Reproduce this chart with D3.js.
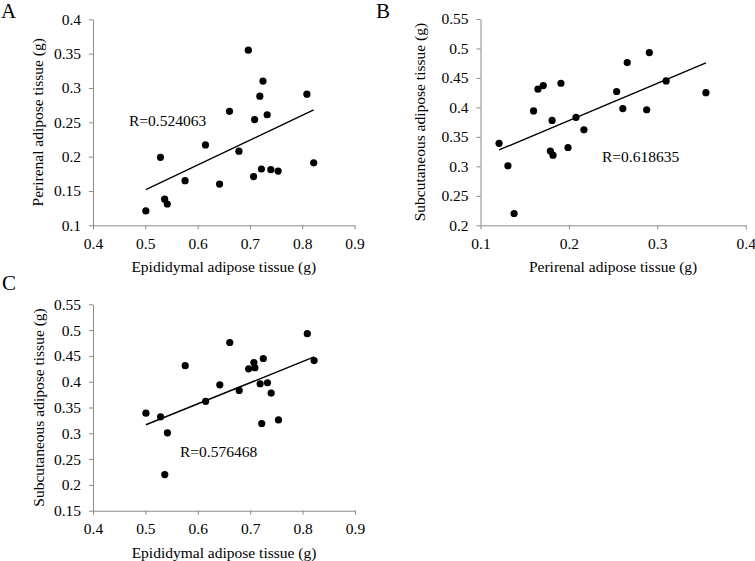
<!DOCTYPE html>
<html>
<head>
<meta charset="utf-8">
<script src="https://cdn.jsdelivr.net/npm/d3@7"></script>
<style>
  html, body { margin: 0; padding: 0; background: #fff; }
  svg { display: block; }
  text { font-family: "Liberation Serif", "Times New Roman", serif; fill: #000; }
</style>
</head>
<body>
<svg id="chart" width="755" height="561"></svg>
<script>
// ---- data: 20 mice, tissue weights (g) ----
const epididymal   = [0.501, 0.529, 0.537, 0.542, 0.576, 0.615, 0.642, 0.661, 0.679, 0.697,
                      0.707, 0.709, 0.719, 0.725, 0.722, 0.733, 0.740, 0.754, 0.809, 0.822];
const perirenal    = [0.121, 0.199, 0.138, 0.131, 0.165, 0.217, 0.160, 0.266, 0.208, 0.355,
                      0.171, 0.254, 0.288, 0.310, 0.182, 0.261, 0.181, 0.179, 0.291, 0.191];
const subcutaneous = [0.339, 0.332, 0.220, 0.301, 0.431, 0.362, 0.394, 0.476, 0.383, 0.425,
                      0.437, 0.427, 0.396, 0.445, 0.319, 0.398, 0.378, 0.326, 0.493, 0.441];

const ticksEpi  = [0.4, 0.5, 0.6, 0.7, 0.8, 0.9];
const ticksPeriX = [0.1, 0.2, 0.3, 0.4];
const ticksPeriY = [0.1, 0.15, 0.2, 0.25, 0.3, 0.35, 0.4];
const ticksSubB = [0.2, 0.25, 0.3, 0.35, 0.4, 0.45, 0.5, 0.55];
const ticksSubC = [0.15, 0.2, 0.25, 0.3, 0.35, 0.4, 0.45, 0.5, 0.55];

const panelLetters = ["A", "B", "C"];
const rLabels = ["R=0.524063", "R=0.618635", "R=0.576468"];
const xTitles = ["Epididymal adipose tissue (g)", "Perirenal adipose tissue (g)", "Epididymal adipose tissue (g)"];
const yTitles = ["Perirenal adipose tissue (g)", "Subcutaneous adipose tissue (g)", "Subcutaneous adipose tissue (g)"];

// ---- layout ----
const panels = [
  { letter: panelLetters[0], xs: epididymal, ys: perirenal,
    xDom: [0.4, 0.9], yDom: [0.1, 0.4], xTicks: ticksEpi, yTicks: ticksPeriY,
    left: 93, right: 354.5, top: 19.3, bottom: 225.3,
    letterPos: [1, 18], rPos: [129, 126], yTitleX: 38,
    xTitle: xTitles[0], yTitle: yTitles[0], r: rLabels[0] },
  { letter: panelLetters[1], xs: perirenal, ys: subcutaneous,
    xDom: [0.1, 0.4], yDom: [0.2, 0.55], xTicks: ticksPeriX, yTicks: ticksSubB,
    left: 480.5, right: 745.7, top: 19, bottom: 225.3,
    letterPos: [376, 18], rPos: [602, 162], yTitleX: 420,
    xTitle: xTitles[1], yTitle: yTitles[1], r: rLabels[1] },
  { letter: panelLetters[2], xs: epididymal, ys: subcutaneous,
    xDom: [0.4, 0.9], yDom: [0.15, 0.55], xTicks: ticksEpi, yTicks: ticksSubC,
    left: 93, right: 355, top: 304.3, bottom: 510.7,
    letterPos: [2, 290], rPos: [180, 457], yTitleX: 39,
    xTitle: xTitles[2], yTitle: yTitles[2], r: rLabels[2] }
];

const svg = d3.select("#chart");
const fmt = d => String(+d.toFixed(2));
const axisColor = "#8a8a8a";
const fs = "15.5px";

panels.forEach(p => {
  const x = d3.scaleLinear().domain(p.xDom).range([p.left, p.right]);
  const y = d3.scaleLinear().domain(p.yDom).range([p.bottom, p.top]);
  const g = svg.append("g");

  // axes
  const xAxis = g.append("g").attr("transform", `translate(0,${p.bottom})`)
    .call(d3.axisBottom(x).tickValues(p.xTicks).tickFormat(fmt).tickSizeInner(4).tickSizeOuter(0).tickPadding(5));
  const yAxis = g.append("g").attr("transform", `translate(${p.left},0)`)
    .call(d3.axisLeft(y).tickValues(p.yTicks).tickFormat(fmt).tickSizeInner(4).tickSizeOuter(0).tickPadding(8));
  [xAxis, yAxis].forEach(a => {
    a.selectAll("path, line").attr("stroke", axisColor).attr("stroke-width", 1);
    a.selectAll("text").style("font-family", '"Liberation Serif", serif').style("font-size", fs).attr("fill", "#000");
  });
  xAxis.selectAll("text").attr("dy", "0.95em");

  // trend line (least squares)
  const n = p.xs.length;
  const mx = d3.mean(p.xs), my = d3.mean(p.ys);
  let sxy = 0, sxx = 0;
  for (let i = 0; i < n; i++) { sxy += (p.xs[i] - mx) * (p.ys[i] - my); sxx += (p.xs[i] - mx) ** 2; }
  const b = sxy / sxx, a0 = my - b * mx;
  const [x0, x1] = d3.extent(p.xs);
  g.append("line")
    .attr("x1", x(x0)).attr("y1", y(a0 + b * x0))
    .attr("x2", x(x1)).attr("y2", y(a0 + b * x1))
    .attr("stroke", "#000").attr("stroke-width", 1.4);

  // points
  g.selectAll("circle").data(d3.range(n)).join("circle")
    .attr("cx", i => x(p.xs[i])).attr("cy", i => y(p.ys[i]))
    .attr("r", 3.6).attr("fill", "#000");

  // texts
  g.append("text").attr("x", p.rPos[0]).attr("y", p.rPos[1])
    .style("font-size", fs).text(p.r);
  g.append("text").attr("x", (p.left + p.right) / 2).attr("y", p.bottom + 47)
    .attr("text-anchor", "middle").style("font-size", fs).text(p.xTitle);
  g.append("text")
    .attr("transform", `translate(${p.yTitleX},${(p.top + p.bottom) / 2}) rotate(-90)`)
    .attr("text-anchor", "middle").attr("dy", "0.35em").style("font-size", fs).text(p.yTitle);
  g.append("text").attr("x", p.letterPos[0]).attr("y", p.letterPos[1])
    .style("font-size", "21px").text(p.letter);
});
</script>
</body>
</html>
